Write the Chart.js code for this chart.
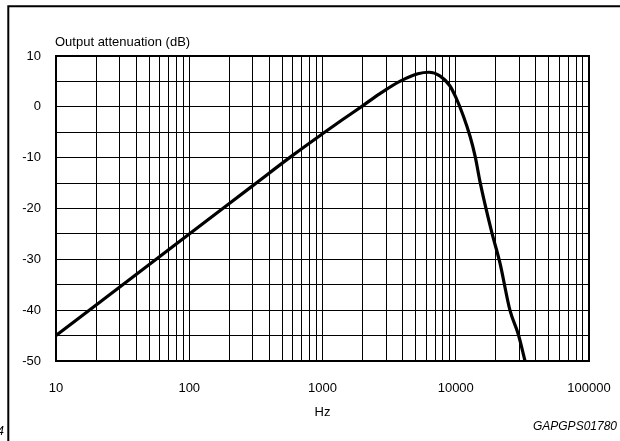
<!DOCTYPE html>
<html><head><meta charset="utf-8">
<script src="https://cdn.jsdelivr.net/npm/chart.js@4/dist/chart.umd.min.js"></script>
<style>html,body{margin:0;padding:0;background:#fff;overflow:hidden}#wrap{width:620px;height:441px;position:relative}</style>
</head><body><div id="wrap"><canvas id="c" width="620" height="441"></canvas></div>
<script>
// ---- data ----
const freqHz = [10, 100, 300, 600, 1000, 1400, 2000, 2700, 3800, 5200, 6300, 7600, 9000, 10000, 11400, 12800, 14000, 15200, 18600, 21500, 25500, 29500, 33100];
const attenuationDb = [-45, -25, -15.5, -9.5, -5.3, -2.6, 0.2, 2.6, 5.0, 6.5, 6.8, 6.1, 4.2, 1.9, -1.8, -5.8, -9.8, -14.7, -24.6, -30.8, -40, -44.8, -50];
const xDecades = [10, 100, 1000, 10000, 100000];
const xMultipliers = [1, 2, 3, 4, 5, 6, 7, 8, 9];
const yGridValues = [-50, -45, -40, -35, -30, -25, -20, -15, -10, -5, 0, 5, 10];
const yLabelValues = [-50, -40, -30, -20, -10, 0, 10];
const chartTitle = 'Output attenuation (dB)';
const xAxisTitle = 'Hz';
const figureCode = 'GAPGPS01780';
const pageFragment = '4';

const xGridValues = [];
xDecades.forEach((d, i) => {
  if (i === xDecades.length - 1) { xGridValues.push(d); return; }
  xMultipliers.forEach(m => xGridValues.push(d * m));
});

const FONT = "'Liberation Sans', Arial, Helvetica, sans-serif";
Chart.defaults.font.family = FONT;
Chart.defaults.color = '#000';

const decor = {
  id: 'decor',
  beforeDatasetsDraw(chart) {
    const {ctx, chartArea: a} = chart;
    ctx.save();
    ctx.strokeStyle = '#000';
    ctx.lineWidth = 2;
    ctx.strokeRect(a.left, a.top, a.right - a.left, a.bottom - a.top);
    ctx.restore();
  },
  afterDraw(chart) {
    const {ctx, chartArea: a} = chart;
    ctx.save();
    ctx.strokeStyle = '#000';
    ctx.lineWidth = 2;
    ctx.beginPath();
    ctx.moveTo(7.3, 6.3); ctx.lineTo(620, 6.3);
    ctx.moveTo(8.3, 6.3); ctx.lineTo(8.3, 441);
    ctx.stroke();
    ctx.fillStyle = '#000';
    ctx.font = '13px ' + FONT;
    ctx.textAlign = 'left';
    ctx.textBaseline = 'middle';
    ctx.fillText(chartTitle, a.left - 1, 42);
    ctx.font = 'italic 12px ' + FONT;
    ctx.textAlign = 'right';
    ctx.fillText(figureCode, 617, 427);
    ctx.fillText(pageFragment, 4, 432);
    ctx.restore();
  }
};

new Chart(document.getElementById('c'), {
  type: 'line',
  data: {
    datasets: [{
      data: freqHz.map((f, i) => ({x: f, y: attenuationDb[i]})),
      borderColor: '#000',
      borderWidth: 3.2,
      pointRadius: 0,
      cubicInterpolationMode: 'monotone',
      fill: false
    }]
  },
  options: {
    responsive: false,
    animation: false,
    layout: {padding: {top: 56, right: 31, left: 0, bottom: 0}},
    plugins: {legend: {display: false}, tooltip: {enabled: false}, title: {display: false}},
    scales: {
      x: {
        type: 'logarithmic', min: 10, max: 100000,
        afterBuildTicks: s => { s.ticks = xGridValues.map(v => ({value: v})); },
        afterFit: s => { s.height = 80; s.paddingLeft = 0; s.paddingRight = 0; },
        grid: {color: '#000', lineWidth: 1, drawTicks: false},
        border: {display: false},
        ticks: {autoSkip: false, maxRotation: 0, minRotation: 0, padding: 20, color: '#000', font: {size: 13},
          callback: v => xDecades.includes(v) ? String(v) : ''},
        title: {display: true, text: xAxisTitle, color: '#000', font: {size: 13}, padding: {top: 0, bottom: 21}}
      },
      y: {
        min: -50, max: 10,
        afterBuildTicks: s => { s.ticks = yGridValues.map(v => ({value: v})); },
        afterFit: s => { s.width = 56; s.paddingTop = 0; s.paddingBottom = 0; },
        grid: {color: '#000', lineWidth: 1, drawTicks: false},
        border: {display: false},
        ticks: {autoSkip: false, padding: 15, color: '#000', font: {size: 13},
          callback: v => yLabelValues.includes(v) ? String(v) : ''}
      }
    }
  },
  plugins: [decor]
});
</script></body></html>
